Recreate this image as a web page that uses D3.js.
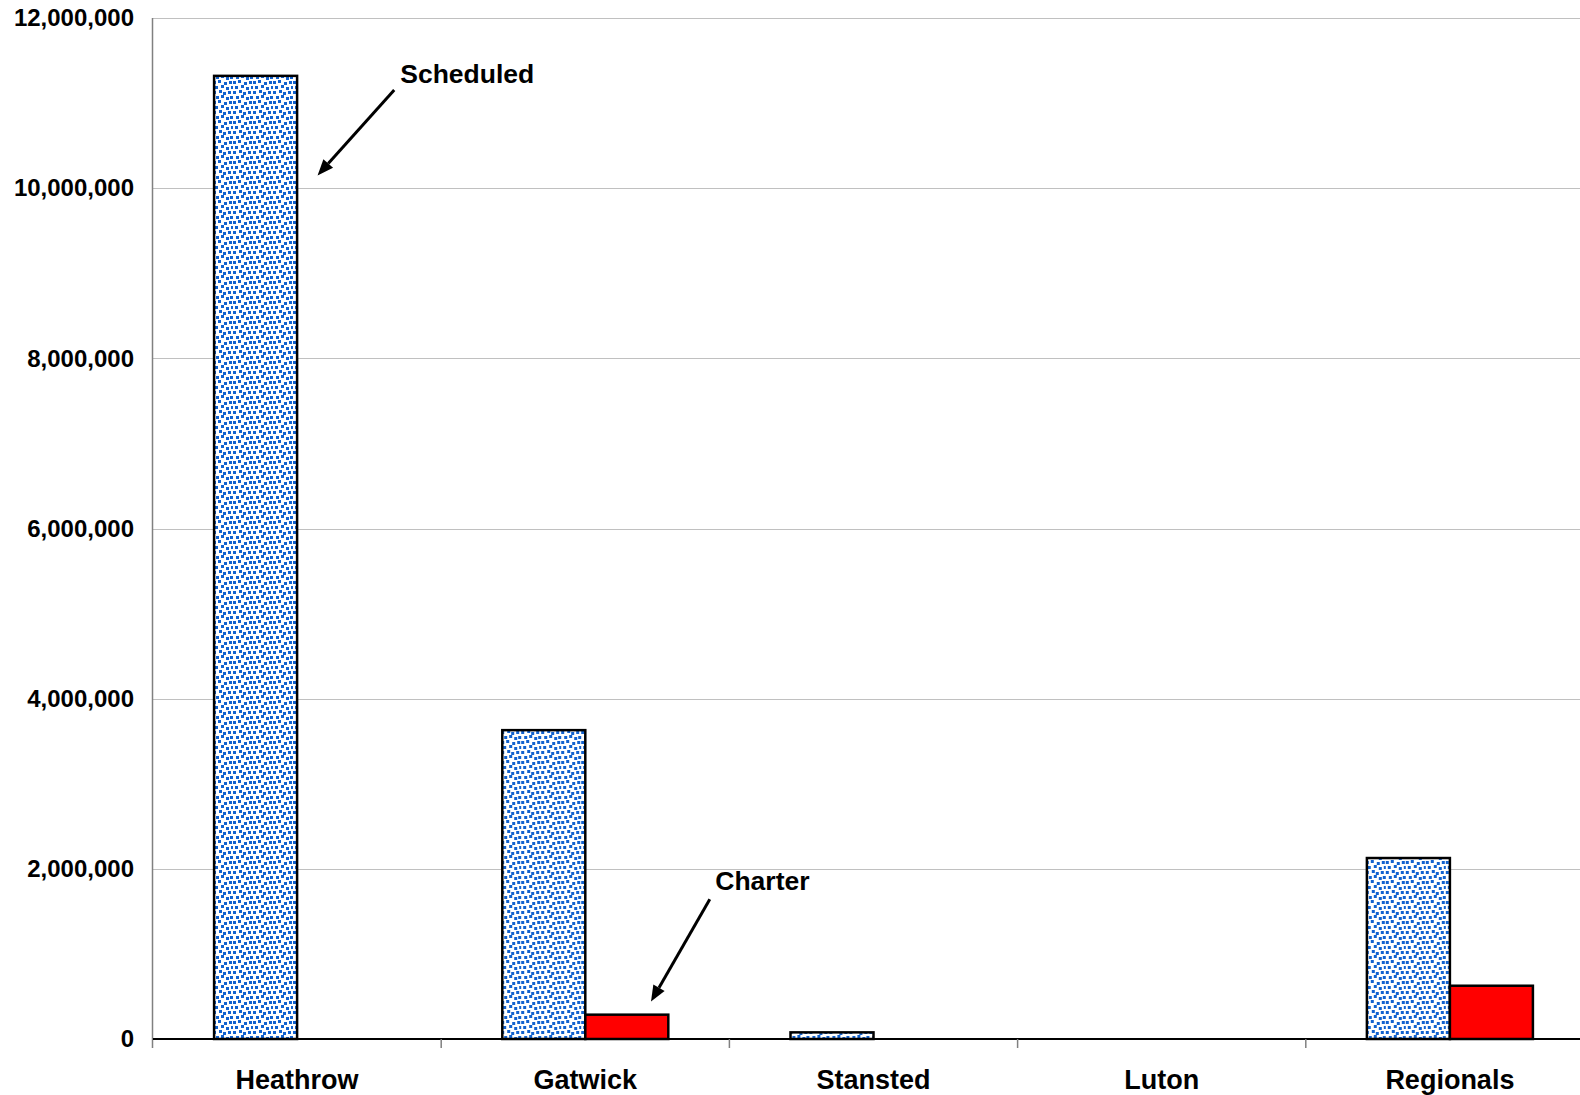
<!DOCTYPE html>
<html><head><meta charset="utf-8">
<script src="https://cdn.jsdelivr.net/npm/d3@7"></script>
<style>
html,body{margin:0;padding:0;background:#fff;}
svg{display:block;font-family:Arial,"Liberation Sans",sans-serif;}
</style></head>
<body>
<svg id="chart" width="1580" height="1095"></svg>
<script>
const categories = ["Heathrow","Gatwick","Stansted","Luton","Regionals"];
const seriesNames = ["Scheduled","Charter"];
const scheduled = [11320000, 3630000, 78000, 0, 2127000];
const charter = [0, 286000, 0, 0, 626000];
const yTicks = [0, 2000000, 4000000, 6000000, 8000000, 10000000, 12000000];
// annotations: tip/tail/text positions given as category + fraction of band and data value
const annotations = [
  {label:"Scheduled", cat:"Heathrow", textF:0.858, textV:11235000, tailF:0.837, tailV:11154000, tipF:0.571, tipV:10150000},
  {label:"Charter", cat:"Gatwick", textF:0.951, textV:1751000, tailF:0.932, tailV:1642000, tipF:0.728, tipV:440000}
];
// confetti dot offsets inside a 20x20 pattern tile
const confettiDots = [[0,1],[5,0],[11,2],[16,1],[2,6],[8,5],[13,7],[18,6],[0,11],[6,10],[10,12],[15,11],[3,16],[8,15],[13,17],[17,16]];

(function(){
const svg = d3.select("#chart");
const plotLeft = 153, step = 288.2, plotTop = 18, plotBottom = 1039;

const x0 = d3.scaleBand().domain(categories).range([plotLeft, plotLeft + step*categories.length]).paddingInner(0).paddingOuter(0);
const x1 = d3.scaleBand().domain(seriesNames).range([0, x0.bandwidth()]).paddingInner(0).paddingOuter(0.736);
const y = d3.scaleLinear().domain([0, 12000000]).range([plotBottom, plotTop]);

// pattern (blue confetti dots)
const defs = svg.append("defs");
const pat = defs.append("pattern").attr("id","confetti").attr("patternUnits","userSpaceOnUse")
  .attr("width",20).attr("height",20);
pat.append("rect").attr("width",20).attr("height",20).attr("fill","#fff");
confettiDots.forEach(([px,py])=>{
  pat.append("rect").attr("x",px).attr("y",py).attr("width",3).attr("height",3).attr("fill","#1262cf");
});

// gridlines
svg.append("g").selectAll("line").data(yTicks.filter(d=>d>0)).join("line")
  .attr("x1",plotLeft).attr("x2",1580).attr("y1",d=>Math.round(y(d))+0.5).attr("y2",d=>Math.round(y(d))+0.5)
  .attr("stroke","#c0c0c0").attr("stroke-width",1.2);

// y axis
const yAxis = d3.axisLeft(y).tickValues(yTicks).tickFormat(d3.format(",")).tickSize(0).tickPadding(19);
const gy = svg.append("g").attr("transform",`translate(${plotLeft},0)`).call(yAxis);
gy.select(".domain").remove();
gy.selectAll("text").attr("font-size","24px").attr("font-weight","bold").attr("fill","#000")
  .attr("font-family",'Arial,"Liberation Sans",sans-serif');
svg.append("line").attr("x1",plotLeft-0.5).attr("x2",plotLeft-0.5).attr("y1",plotTop).attr("y2",plotBottom+9)
  .attr("stroke","#808080").attr("stroke-width",1.5);

// bars
const data = categories.map((c,i)=>({cat:c, vals:[{s:"Scheduled",v:scheduled[i]},{s:"Charter",v:charter[i]}]}));
const g = svg.append("g").selectAll("g").data(data).join("g").attr("transform",d=>`translate(${x0(d.cat)},0)`);
g.selectAll("rect").data(d=>d.vals.filter(e=>e.v>0)).join("rect")
  .attr("x",d=>x1(d.s)).attr("width",x1.bandwidth())
  .attr("y",d=>y(d.v)).attr("height",d=>y(0)-y(d.v))
  .attr("fill",d=>d.s==="Scheduled"?"url(#confetti)":"#ff0000")
  .attr("stroke","#000").attr("stroke-width",2.5);

// x axis
const gx = svg.append("g").attr("transform",`translate(0,${plotBottom})`);
gx.append("line").attr("x1",plotLeft).attr("x2",1580).attr("y1",0).attr("y2",0).attr("stroke","#000").attr("stroke-width",2);
gx.selectAll("line.tk").data(categories.slice(1)).join("line").attr("class","tk")
  .attr("x1",d=>x0(d)).attr("x2",d=>x0(d)).attr("y1",0).attr("y2",9).attr("stroke","#808080").attr("stroke-width",1.5);
gx.selectAll("text").data(categories).join("text")
  .attr("x",d=>x0(d)+x0.bandwidth()/2).attr("y",50).attr("text-anchor","middle")
  .attr("font-size","27px").attr("font-weight","bold").text(d=>d);

// annotations
annotations.forEach(a=>{
  const bx = x0(a.cat), bw = x0.bandwidth();
  const tx = bx + a.tailF*bw, ty = y(a.tailV);
  const px = bx + a.tipF*bw, py = y(a.tipV);
  const ang = Math.atan2(py-ty, px-tx);
  const L = 16, H = 6.5;
  const baseX = px - L*Math.cos(ang), baseY = py - L*Math.sin(ang);
  svg.append("line").attr("x1",tx).attr("y1",ty).attr("x2",baseX).attr("y2",baseY)
    .attr("stroke","#000").attr("stroke-width",3);
  const nx = -Math.sin(ang), ny = Math.cos(ang);
  svg.append("polygon").attr("points",[[px,py],[baseX+nx*H,baseY+ny*H],[baseX-nx*H,baseY-ny*H]].map(p=>p.join(",")).join(" "))
    .attr("fill","#000");
  svg.append("text").attr("x",bx + a.textF*bw).attr("y",y(a.textV))
    .attr("font-size","26.5px").attr("font-weight","bold").text(a.label);
});
})();
</script>
</body></html>
